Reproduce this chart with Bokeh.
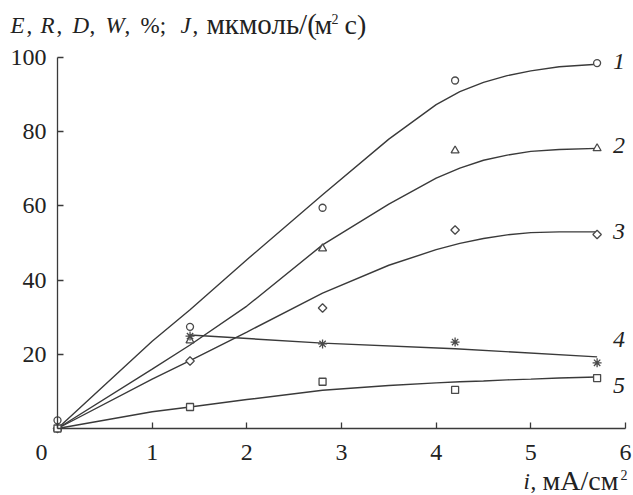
import math
from bokeh.plotting import figure
from bokeh.models import Label, FixedTicker, Range1d, LinearAxis
from bokeh.embed import file_html
from bokeh.resources import INLINE

# ---- data ----
x_points = [0.0, 1.4, 2.8, 4.2, 5.7]
series1 = [2.2, 27.4, 59.5, 93.8, 98.5]      # circles, curve 1
series2 = [0.0, 23.7, 48.5, 74.9, 75.5]      # triangles, curve 2
series3 = [0.0, 18.2, 32.5, 53.5, 52.3]      # diamonds, curve 3
x_points4 = [1.4, 2.8, 4.2, 5.7]
series4 = [24.9, 22.8, 23.3, 17.7]           # asterisks, curve 4
series5 = [0.0, 5.8, 12.6, 10.4, 13.6]       # squares, curve 5

# fitted curves
fit_x = [0.0, 1.0, 1.4, 2.0, 2.8, 3.5, 4.0, 4.25, 4.5, 4.75, 5.0, 5.3, 5.7]
fit1 = [0.0, 23.5, 32.0, 45.5, 63.0, 78.0, 87.3, 90.8, 93.3, 95.1, 96.4, 97.5, 98.2]
fit2 = [0.0, 16.0, 22.5, 33.0, 49.5, 60.5, 67.5, 70.2, 72.3, 73.7, 74.7, 75.2, 75.5]
fit3 = [0.0, 13.3, 18.3, 26.0, 36.5, 44.0, 48.2, 49.9, 51.2, 52.2, 52.8, 53.0, 53.0]
fit4_x = [1.4, 2.8, 4.2, 5.7]
fit4 = [25.2, 23.0, 21.5, 19.3]
fit5 = [0.0, 4.5, 5.8, 7.8, 10.3, 11.6, 12.3, 12.6, 12.8, 13.1, 13.3, 13.6, 13.9]

curve_labels = ["1", "2", "3", "4", "5"]
curve_label_y = [98.8, 76.4, 53.1, 23.9, 11.5]

x_ticks = [0, 1, 2, 3, 4, 5, 6]
y_ticks = [20, 40, 60, 80, 100]

FONT = "Liberation Serif"
LINE = "#3a3a3a"
MARK = "#4a4a4a"
TXT = "#222222"

W, H = 633, 495
# pixel positions of the data box in the page
PX0, PX6 = 57.0, 625.0      # x = 0 and x = 6
PY0, PY100 = 428.0, 57.0    # y = 0 and y = 100
sx = (PX6 - PX0) / 6.0
sy = (PY0 - PY100) / 100.0
xr = Range1d(-PX0 / sx, 6 + (W - PX6) / sx)
yr = Range1d(-(H - PY0) / sy, 100 + PY100 / sy)

p = figure(width=W, height=H, output_backend="svg", toolbar_location=None,
           x_range=xr, y_range=yr, x_axis_location=None, y_axis_location=None,
           min_border=0)
p.xgrid.visible = False
p.ygrid.visible = False
p.outline_line_color = None
p.background_fill_color = "white"
p.border_fill_color = "white"

xaxis = LinearAxis(fixed_location=0, bounds=(0, 6), ticker=FixedTicker(ticks=x_ticks))
yaxis = LinearAxis(fixed_location=0, bounds=(0, 100), ticker=FixedTicker(ticks=y_ticks))
for ax in (xaxis, yaxis):
    ax.axis_line_color = LINE
    ax.axis_line_width = 1.3
    ax.major_tick_line_color = LINE
    ax.major_tick_line_width = 1.3
    ax.major_tick_in = 6
    ax.major_tick_out = 0
    ax.minor_tick_line_color = None
    ax.major_label_text_font = FONT
    ax.major_label_text_font_size = "24px"
    ax.major_label_text_color = TXT
xaxis.major_label_overrides = {0: ""}
xaxis.major_label_standoff = 16
yaxis.major_label_standoff = 11
p.add_layout(xaxis, "below")
p.add_layout(yaxis, "left")

# curves
p.line(fit_x, fit1, line_color=LINE, line_width=1.4)
p.line(fit_x, fit2, line_color=LINE, line_width=1.4)
p.line(fit_x, fit3, line_color=LINE, line_width=1.4)
p.line(fit4_x, fit4, line_color=LINE, line_width=1.4)
p.line(fit_x, fit5, line_color=LINE, line_width=1.4)

# markers
p.scatter(x_points, series1, marker="circle", size=7, fill_color="white", line_color=MARK, line_width=1.3)
p.scatter(x_points, series2, marker="triangle", size=8, fill_color="white", line_color=MARK, line_width=1.3)
p.scatter(x_points, series3, marker="square", angle=math.pi / 4, size=6, fill_color="white", line_color=MARK, line_width=1.3)
p.scatter(x_points4, series4, marker="asterisk", size=9, line_color=MARK, line_width=1.3)
p.scatter(x_points, series5, marker="square", size=7, fill_color="white", line_color=MARK, line_width=1.3)

# curve number labels
for lab, yv in zip(curve_labels, curve_label_y):
    p.add_layout(Label(x=5.7, y=yv, x_offset=16, text=lab, text_font=FONT, text_font_style="italic",
                       text_font_size="24px", text_baseline="middle", text_align="left",
                       text_color=TXT))

def sc(page_x, page_y, text, italic=False, size="23px", align="left"):
    # screen units: origin at bottom-left of the frame (= whole canvas here); page_y = text middle
    p.add_layout(Label(x=page_x, y=H - page_y, x_units="screen", y_units="screen",
                       text=text, text_font=FONT, text_font_size=size,
                       text_font_style="italic" if italic else "normal",
                       text_baseline="middle", text_align=align, text_color=TXT))

# y axis title (baseline ~33 px)
LAT, CYR, SUP = "23px", "28px", "14px"
TM_L, TM_C, TM_S = 25.2, 23.6, 18.5
sc(10, TM_L, "E", True)
sc(26, TM_L, ",")
sc(40, TM_L, "R", True)
sc(56, TM_L, ",")
sc(72, TM_L, "D", True)
sc(89, TM_L, ",")
sc(105, TM_L, "W", True)
sc(124, TM_L, ",")
sc(140, TM_L, "%;")
sc(180, TM_L, "J", True)
sc(192, TM_L, ",")
sc(206, TM_C - 0.4, "мкмоль/(", size="29px")
sc(314, TM_C, "м", size=CYR)
sc(331, TM_S, "2", size=SUP)
sc(344, TM_C, "с)", size=CYR)

# x axis title (baseline ~489 px)
XM_L, XM_C, XM_S = 481.2, 479.6, 474.3
sc(523, XM_L, "i", True)
sc(530, XM_L, ",")
sc(542, XM_C, "мА/см", size=CYR)
sc(620, XM_S, "2", size=SUP)

# corner zero
sc(41, 452, "0", size="24px", align="center")

open("out.html", "w").write(file_html(p, INLINE))
